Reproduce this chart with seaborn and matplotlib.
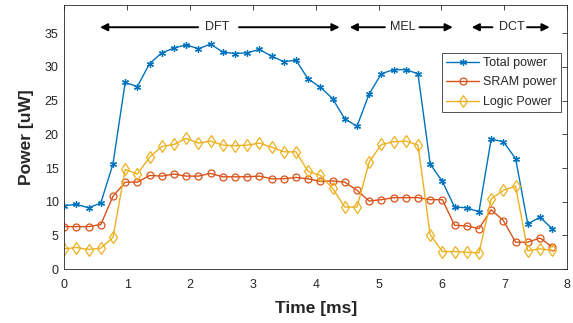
import numpy as np
import pandas as pd
import matplotlib
matplotlib.use("Agg")
import matplotlib.pyplot as plt
import seaborn as sns

sns.set_theme(style="white")
plt.rcParams['font.family'] = ['Liberation Sans', 'DejaVu Sans']

# Time samples [ms]
time_ms = [0.000, 0.194, 0.388, 0.582, 0.776, 0.970, 1.164, 1.358, 1.552, 1.746,
           1.940, 2.134, 2.328, 2.522, 2.716, 2.910, 3.104, 3.298, 3.492, 3.686,
           3.880, 4.074, 4.268, 4.462, 4.656, 4.850, 5.044, 5.238, 5.432, 5.626,
           5.820, 6.014, 6.208, 6.402, 6.596, 6.790, 6.984, 7.178, 7.372, 7.566,
           7.760]

total_power = [9.4, 9.6, 9.1, 9.8, 15.6, 27.7, 27.1, 30.5, 32.1, 32.8,
               33.3, 32.7, 33.4, 32.2, 32.0, 32.1, 32.6, 31.6, 30.8, 31.0,
               28.2, 27.0, 25.3, 22.3, 21.2, 26.0, 29.0, 29.6, 29.6, 29.0,
               15.6, 13.0, 9.2, 9.1, 8.5, 19.3, 18.9, 16.4, 6.7, 7.7,
               6.0]

sram_power = [6.3, 6.3, 6.3, 6.6, 10.8, 12.9, 12.9, 13.9, 13.8, 14.1,
              13.8, 13.8, 14.2, 13.7, 13.7, 13.7, 13.8, 13.4, 13.4, 13.6,
              13.4, 13.0, 13.1, 12.9, 11.7, 10.1, 10.3, 10.6, 10.6, 10.6,
              10.3, 10.3, 6.5, 6.4, 6.0, 8.8, 7.2, 4.0, 4.0, 4.6,
              3.3]

logic_power = [3.0, 3.2, 2.9, 3.1, 4.7, 14.8, 14.1, 16.6, 18.2, 18.5,
               19.4, 18.7, 19.0, 18.4, 18.3, 18.4, 18.7, 18.1, 17.4, 17.4,
               14.5, 13.9, 12.0, 9.2, 9.2, 15.9, 18.5, 18.9, 19.0, 18.4,
               5.1, 2.6, 2.6, 2.5, 2.4, 10.4, 11.7, 12.3, 2.7, 3.0,
               2.8]

series_names = ["Total power", "SRAM power", "Logic Power"]
colors = ["#0072BD", "#D95319", "#EDB120"]
markers = [(6, 2, 0), "o", "d"]
marker_sizes = [5.0, 5.0, 6.0]

phase_labels = ["DFT", "MEL", "DCT"]
phase_text_x = [2.43, 5.38, 7.12]
phase_left_arrows = [(2.13, 0.57), (5.10, 4.54), (6.81, 6.48)]
phase_right_arrows = [(2.78, 4.38), (5.65, 6.18), (7.36, 7.72)]

df = pd.DataFrame({"Time": time_ms, "Total power": total_power,
                   "SRAM power": sram_power, "Logic Power": logic_power})

fig = plt.figure(figsize=(5.73, 3.23), dpi=100)
ax = fig.add_axes([0.112, 0.167, 0.878, 0.8175])

txt = "#262626"
for name, c, m, ms in zip(series_names, colors, markers, marker_sizes):
    sns.lineplot(data=df, x="Time", y=name, ax=ax, color=c, marker=m,
                 markersize=ms, markerfacecolor="none",
                 markeredgecolor=c, markeredgewidth=0.9, linewidth=1.0,
                 label=name)

ax.set_xlim(0, 8)
ax.set_ylim(0, 39.2)
ax.set_xticks(range(0, 9))
ax.set_yticks(range(0, 36, 5))
ax.tick_params(direction="in", length=3.5, width=0.6, top=True, right=True,
               labelsize=9, colors=txt)
ax.tick_params(axis="x", pad=7)
ax.tick_params(axis="y", pad=4)
for sp in ax.spines.values():
    sp.set_visible(True)
    sp.set_color(txt)
    sp.set_linewidth(0.6)

ax.set_xlabel("Time [ms]", fontsize=12.5, fontweight="bold", color=txt, labelpad=7)
ax.set_ylabel("Power [uW]", fontsize=12.5, fontweight="bold", color=txt, labelpad=8)

y_ann = 35.9
for lab, tx, (l0, l1), (r0, r1) in zip(phase_labels, phase_text_x,
                                          phase_left_arrows, phase_right_arrows):
    ax.text(tx, y_ann, lab, ha="center", va="center", fontsize=9, color=txt)
    for a0, a1 in [(l0, l1), (r0, r1)]:
        ax.annotate("", xy=(a1, y_ann), xytext=(a0, y_ann),
                    arrowprops=dict(arrowstyle="-|>", color="black", lw=1.4,
                                    mutation_scale=11, shrinkA=0, shrinkB=0))

leg = ax.legend(loc="upper left", bbox_to_anchor=(0.751, 0.82), fontsize=9,
                frameon=True, fancybox=False, edgecolor="black",
                handlelength=2.6, handletextpad=0.3, borderpad=0.35,
                labelspacing=0.6, borderaxespad=0)
leg.get_frame().set_linewidth(0.6)
for t in leg.get_texts():
    t.set_color(txt)

fig.savefig("out.png", dpi=100)
